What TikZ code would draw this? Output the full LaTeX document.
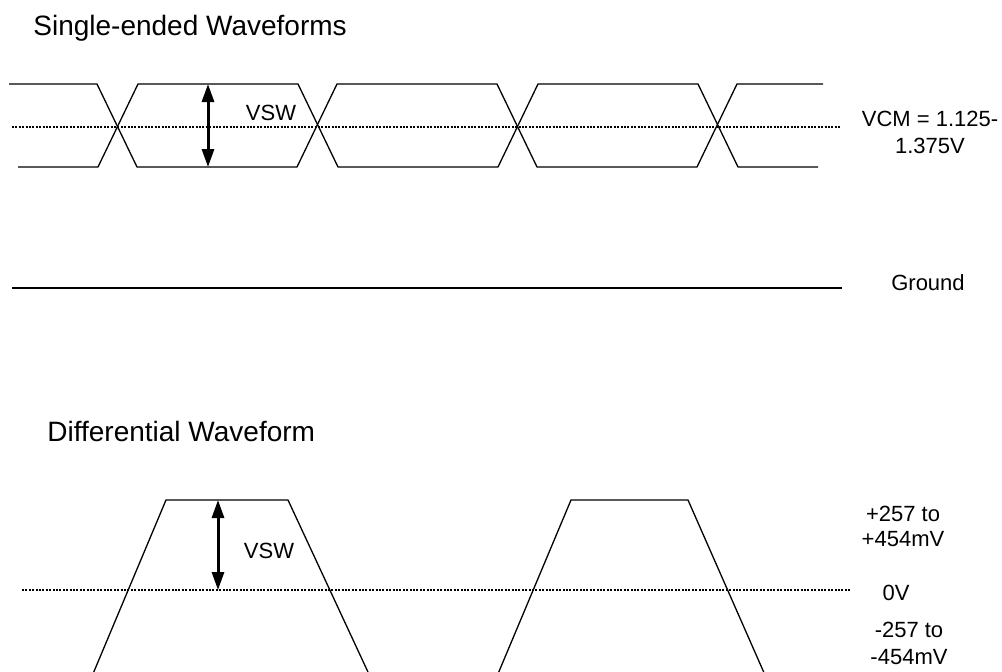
\documentclass[tikz,border=0pt]{standalone}
\usepackage{fontspec}
\setmainfont{Liberation Sans}
\usetikzlibrary{arrows.meta}
\begin{document}
\begin{tikzpicture}[x=0.5pt,y=-0.5pt,
  wave/.style={line width=0.65pt, line join=miter},
  level/.style={line width=1.4pt, dash pattern=on 1pt off 0.7pt},
  groundline/.style={line width=1.4pt},
  swing/.style={line width=1.5pt, {Triangle[width=6pt,length=9pt]}-{Triangle[width=6pt,length=9pt]}},
  lbl/.style={font=\fontsize{11}{13.5}\selectfont, align=center, inner sep=0pt},
  ttl/.style={font=\fontsize{14}{17}\selectfont, anchor=base west, inner sep=0pt}]
\clip (0,0) rectangle (1002,671);

% titles
\node[ttl] (t1) at (33,35) {Single-ended Waveforms};
\node[ttl] (t2) at (47,441) {Differential Waveform};

% ---------- single-ended ----------
\coordinate (cmL) at (12,127);
\coordinate (cmR) at (840,127);
\draw[level] (cmL) -- (cmR);

% signal A
\draw[wave] (9,84) -- (97,84) -- (137,167) -- (297,167) -- (337,84) -- (497,84)
  -- (537,167) -- (697,167) -- (737,84) -- (823,84);
% signal B
\draw[wave] (18,167) -- (98,167) -- (138,84) -- (298,84) -- (338,167) -- (498,167)
  -- (538,84) -- (698,84) -- (738,167) -- (818,167);

\coordinate (swT) at (208,84);
\coordinate (swB) at (208,167);
\draw[swing] (swT) -- (swB);
\node[lbl] (vsw1) at (271,113) {VSW};
\node[lbl] (vcm) at (930,132.6) {VCM = 1.125-\\1.375V};

% ground
\coordinate (gL) at (12,288);
\coordinate (gR) at (842,288);
\draw[groundline] (gL) -- (gR);
\node[lbl] (gnd) at (928,283) {Ground};

% ---------- differential ----------
\coordinate (zL) at (22,590);
\coordinate (zR) at (850,590);
\draw[level] (zL) -- (zR);

\draw[wave] (82,700) -- (166,500) -- (288,500) -- (381,700);
\draw[wave] (487,700) -- (571,500) -- (688,500) -- (776,700);

\coordinate (dT) at (218,500);
\coordinate (dB) at (218,590);
\draw[swing] (dT) -- (dB);
\node[lbl] (vsw2) at (269,551) {VSW};

\node[lbl, font=\fontsize{11}{12.5}\selectfont] (pos) at (903,526.5) {+257 to\\+454mV};
\node[lbl] (zero) at (896,593) {0V};
\node[lbl] (neg) at (909,643.5) {-257 to\\-454mV};
\end{tikzpicture}
\end{document}
